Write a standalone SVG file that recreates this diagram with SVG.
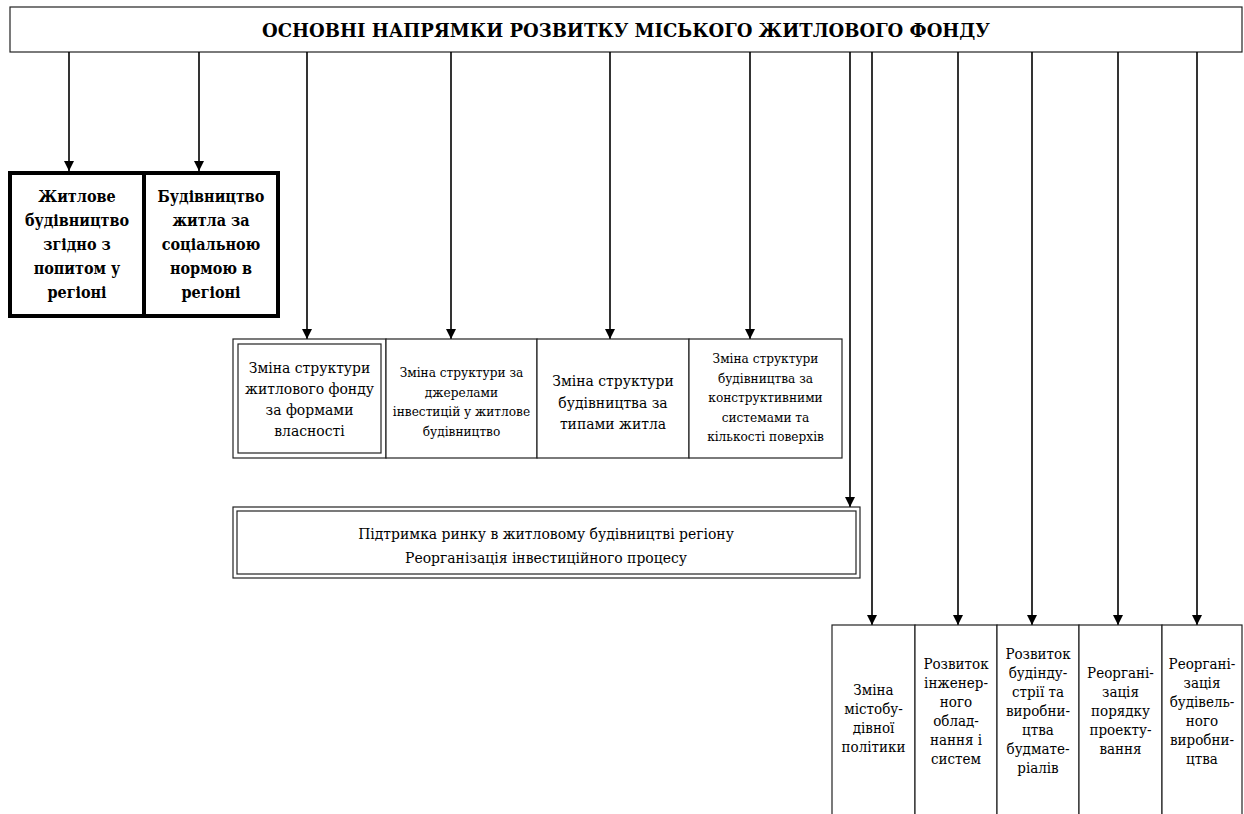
<svg xmlns="http://www.w3.org/2000/svg" width="1244" height="814" viewBox="0 0 1244 814">
<style>
text{font-family:"DejaVu Serif Condensed","DejaVu Serif",serif;font-stretch:condensed;fill:#000;text-anchor:middle;}
.t{font-size:19px;font-weight:bold;}
.b{font-size:16px;font-weight:bold;}
.m{font-size:15.5px;}
.s{font-size:13.5px;}
.r{font-size:15px;}
.box{fill:#fff;stroke:#222;stroke-width:1.2;}
.bold{fill:#fff;stroke:#000;stroke-width:4;}
.ln{stroke:#000;stroke-width:1.6;fill:none;}
</style>
<defs>
<marker id="ah" viewBox="0 0 10 16" refX="10" refY="8" markerWidth="10" markerHeight="16" markerUnits="userSpaceOnUse" orient="auto">
<path d="M0,3 L10,8 L0,13 z" fill="#000"/>
</marker>
</defs>
<rect width="1244" height="814" fill="#fff"/>

<g id="title">
<rect class="box" x="10" y="7" width="1232" height="45"/>
<text class="t" x="626" y="37" textLength="728" lengthAdjust="spacingAndGlyphs">ОСНОВНІ НАПРЯМКИ РОЗВИТКУ МІСЬКОГО ЖИТЛОВОГО ФОНДУ</text>
</g>

<g id="connectors">
<line class="ln" x1="69" y1="52" x2="69" y2="171" marker-end="url(#ah)"/>
<line class="ln" x1="199" y1="52" x2="199" y2="171" marker-end="url(#ah)"/>
<line class="ln" x1="307" y1="52" x2="307" y2="339" marker-end="url(#ah)"/>
<line class="ln" x1="451" y1="52" x2="451" y2="339" marker-end="url(#ah)"/>
<line class="ln" x1="610" y1="52" x2="610" y2="339" marker-end="url(#ah)"/>
<line class="ln" x1="750" y1="52" x2="750" y2="339" marker-end="url(#ah)"/>
<line class="ln" x1="850" y1="52" x2="850" y2="507" marker-end="url(#ah)"/>
<line class="ln" x1="872" y1="52" x2="872" y2="625" marker-end="url(#ah)"/>
<line class="ln" x1="958" y1="52" x2="958" y2="625" marker-end="url(#ah)"/>
<line class="ln" x1="1032" y1="52" x2="1032" y2="625" marker-end="url(#ah)"/>
<line class="ln" x1="1118" y1="52" x2="1118" y2="625" marker-end="url(#ah)"/>
<line class="ln" x1="1197" y1="52" x2="1197" y2="625" marker-end="url(#ah)"/>
</g>

<g id="demand">
<rect class="bold" x="10" y="173" width="134" height="143"/>
<text class="b" x="77"><tspan x="77" y="202">Житлове</tspan><tspan x="77" y="226">будівництво</tspan><tspan x="77" y="250">згідно з</tspan><tspan x="77" y="274">попитом у</tspan><tspan x="77" y="298">регіоні</tspan></text>
</g>
<g id="social-norm">
<rect class="bold" x="144" y="173" width="134" height="143"/>
<text class="b" x="211"><tspan x="211" y="202">Будівництво</tspan><tspan x="211" y="226">житла за</tspan><tspan x="211" y="250">соціальною</tspan><tspan x="211" y="274">нормою в</tspan><tspan x="211" y="298">регіоні</tspan></text>
</g>

<g id="ownership">
<rect class="box" x="233" y="339" width="153" height="119"/>
<rect class="box" x="238" y="344" width="143" height="109"/>
<text class="m"><tspan x="309.5" y="373">Зміна структури</tspan><tspan x="309.5" y="394">житлового фонду</tspan><tspan x="309.5" y="415">за формами</tspan><tspan x="309.5" y="436">власності</tspan></text>
</g>
<g id="investment-sources">
<rect class="box" x="386" y="339" width="151" height="119"/>
<text class="s"><tspan x="461.5" y="377">Зміна структури за</tspan><tspan x="461.5" y="396.5">джерелами</tspan><tspan x="461.5" y="416">інвестицій у житлове</tspan><tspan x="461.5" y="435.5">будівництво</tspan></text>
</g>
<g id="housing-types">
<rect class="box" x="537" y="339" width="152" height="119"/>
<text class="m"><tspan x="613" y="386">Зміна структури</tspan><tspan x="613" y="407.5">будівництва за</tspan><tspan x="613" y="429">типами житла</tspan></text>
</g>
<g id="construction-systems">
<rect class="box" x="689" y="339" width="153" height="119"/>
<text class="s"><tspan x="765.5" y="363">Зміна структури</tspan><tspan x="765.5" y="382.5">будівництва за</tspan><tspan x="765.5" y="402">конструктивними</tspan><tspan x="765.5" y="421.5">системами та</tspan><tspan x="765.5" y="441">кількості поверхів</tspan></text>
</g>

<g id="market">
<rect class="box" x="233" y="507" width="627" height="71"/>
<rect class="box" x="237" y="511" width="619" height="63"/>
<text class="m"><tspan x="546" y="539">Підтримка ринку в житловому будівництві регіону</tspan><tspan x="546" y="563">Реорганізація інвестиційного процесу</tspan></text>
</g>

<g id="urban-policy">
<rect class="box" x="832" y="625" width="83" height="210"/>
<text class="r"><tspan x="873.5" y="695">Зміна</tspan><tspan x="873.5" y="714">містобу-</tspan><tspan x="873.5" y="733">дівної</tspan><tspan x="873.5" y="752">політики</tspan></text>
</g>
<g id="engineering">
<rect class="box" x="915" y="625" width="82" height="210"/>
<text class="r"><tspan x="956" y="669">Розвиток</tspan><tspan x="956" y="688">інженер-</tspan><tspan x="956" y="707">ного</tspan><tspan x="956" y="726">облад-</tspan><tspan x="956" y="745">нання і</tspan><tspan x="956" y="764">систем</tspan></text>
</g>
<g id="building-industry">
<rect class="box" x="997" y="625" width="82" height="210"/>
<text class="r"><tspan x="1038" y="659">Розвиток</tspan><tspan x="1038" y="678">будінду-</tspan><tspan x="1038" y="697">стрії та</tspan><tspan x="1038" y="716">виробни-</tspan><tspan x="1038" y="735">цтва</tspan><tspan x="1038" y="754">будмате-</tspan><tspan x="1038" y="773">ріалів</tspan></text>
</g>
<g id="design-order">
<rect class="box" x="1079" y="625" width="83" height="210"/>
<text class="r"><tspan x="1120.5" y="678">Реоргані-</tspan><tspan x="1120.5" y="697">зація</tspan><tspan x="1120.5" y="716">порядку</tspan><tspan x="1120.5" y="735">проекту-</tspan><tspan x="1120.5" y="754">вання</tspan></text>
</g>
<g id="construction-production">
<rect class="box" x="1162" y="625" width="80" height="210"/>
<text class="r"><tspan x="1202" y="669">Реоргані-</tspan><tspan x="1202" y="688">зація</tspan><tspan x="1202" y="707">будівель-</tspan><tspan x="1202" y="726">ного</tspan><tspan x="1202" y="745">виробни-</tspan><tspan x="1202" y="764">цтва</tspan></text>
</g>
</svg>
